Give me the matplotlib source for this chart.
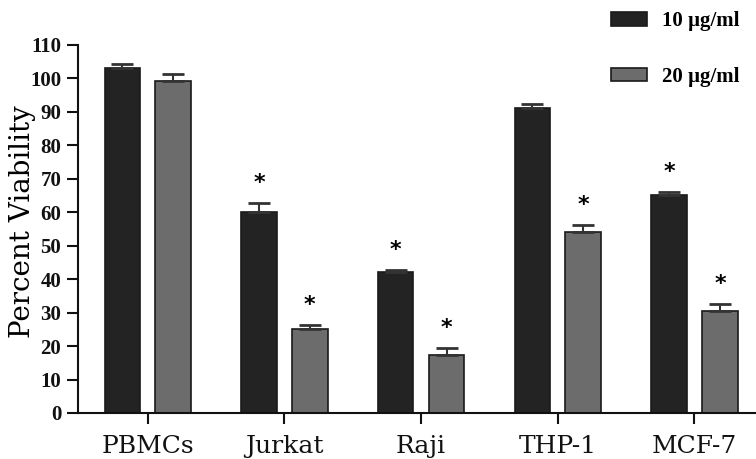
import matplotlib
matplotlib.use("Agg")
import matplotlib.pyplot as plt
import numpy as np

# Data
cells = ["PBMCs", "Jurkat", "Raji", "THP-1", "MCF-7"]
dose10 = [103.0, 60.0, 42.0, 91.2, 65.2]
err10 = [1.2, 2.8, 0.8, 1.2, 0.8]
dose20 = [99.3, 25.2, 17.2, 54.2, 30.6]
err20 = [2.0, 1.0, 2.2, 2.0, 2.0]
sig10 = [False, True, True, False, True]
sig20 = [False, True, True, True, True]

plt.rcParams['font.family'] = ['Liberation Serif', 'DejaVu Serif']

fig = plt.figure(figsize=(7.56, 4.59), dpi=100)
ax = fig.add_axes([78 / 756, 1 - 413 / 459, 1 - 78 / 756, (413 - 45) / 459])

x = np.arange(len(cells))
w = 0.26
off = 0.186
dark = '#232323'
gray = '#6c6c6c'

ax.bar(x - off, dose10, w, color=dark, edgecolor='#1a1a1a', linewidth=1.2,
       label='10 \u00b5g/ml')
ax.bar(x + off, dose20, w, color=gray, edgecolor='#1a1a1a', linewidth=1.2,
       label='20 \u00b5g/ml')
ax.errorbar(x - off, dose10, yerr=[np.zeros(5), err10], fmt='none',
            ecolor='#333333', elinewidth=1.5, capsize=8, capthick=2)
ax.errorbar(x + off, dose20, yerr=[np.zeros(5), err20], fmt='none',
            ecolor='#333333', elinewidth=1.5, capsize=8, capthick=2)

# significance stars
for i in range(len(cells)):
    if sig10[i]:
        ax.text(x[i] - off, dose10[i] + err10[i] + 6.0, '*', ha='center',
                va='center', fontsize=16, fontweight='bold',
                fontfamily='DejaVu Sans')
    if sig20[i]:
        ax.text(x[i] + off, dose20[i] + err20[i] + 6.0, '*', ha='center',
                va='center', fontsize=16, fontweight='bold',
                fontfamily='DejaVu Sans')

ax.set_xlim(-0.51, 4.45)
ax.set_ylim(0, 110)
ax.set_yticks(range(0, 111, 10))
ax.set_xticks(x)
ax.set_xticklabels(cells, fontfamily='DejaVu Serif', fontsize=18)
ax.set_yticklabels([str(v) for v in range(0, 111, 10)], fontweight='bold',
                   fontsize=15)
ax.tick_params(axis='both', direction='out', length=8, width=1.5,
               colors='#111111')
ax.tick_params(axis='y', pad=4)
ax.tick_params(axis='x', pad=8)
for s in ['top', 'right']:
    ax.spines[s].set_visible(False)
for s in ['left', 'bottom']:
    ax.spines[s].set_linewidth(1.5)
    ax.spines[s].set_color('#111111')
ax.set_ylabel('Percent Viability', fontsize=20, fontfamily='DejaVu Serif')
ax.yaxis.set_label_coords(-0.062, 0.52)

fig.legend(loc='upper left', bbox_to_anchor=(603 / 756, 1 - 3 / 459),
           frameon=False, prop={'size': 15, 'weight': 'bold'},
           handlelength=1.7, handleheight=0.63, labelspacing=1.7,
           handletextpad=0.75, borderaxespad=0)

fig.savefig('out.png', dpi=100)
